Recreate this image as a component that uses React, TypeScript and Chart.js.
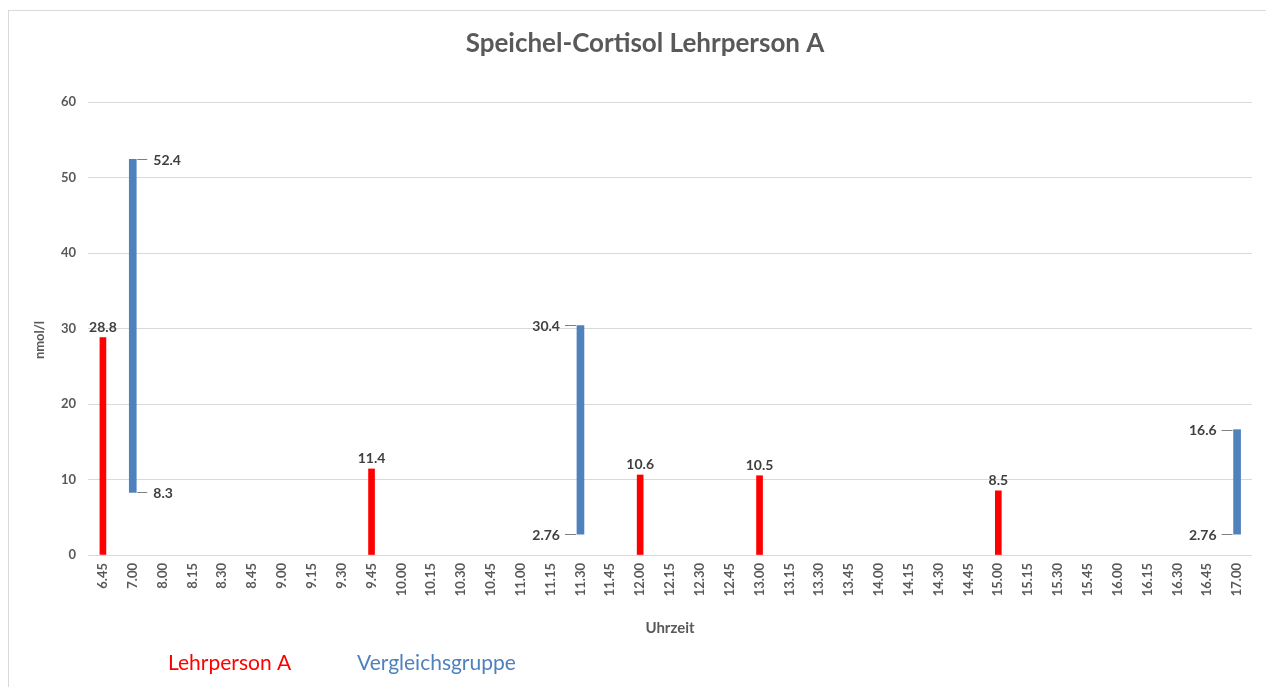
import React, { useEffect, useRef } from "react";
import { Chart, registerables } from "chart.js";

Chart.register(...registerables);

const times = [
  "6.45", "7.00", "8.00", "8.15", "8.30", "8.45", "9.00", "9.15", "9.30", "9.45",
  "10.00", "10.15", "10.30", "10.45", "11.00", "11.15", "11.30", "11.45", "12.00", "12.15",
  "12.30", "12.45", "13.00", "13.15", "13.30", "13.45", "14.00", "14.15", "14.30", "14.45",
  "15.00", "15.15", "15.30", "15.45", "16.00", "16.15", "16.30", "16.45", "17.00",
];

const lehrpersonTimes = ["6.45", "9.45", "12.00", "13.00", "15.00"];
const lehrpersonValues = [28.8, 11.4, 10.6, 10.5, 8.5];

const vergleichTimes = ["7.00", "11.30", "17.00"];
const vergleichLow = [8.3, 2.76, 2.76];
const vergleichHigh = [52.4, 30.4, 16.6];
const vergleichLabelSide = ["right", "left", "left"];

const yTicks = [0, 10, 20, 30, 40, 50, 60];

const TEXT = "#595959";
const LABEL = "#404040";
const RED = "#ff0000";
const BLUE = "#4f81bd";
const FONT = "Lato, 'Open Sans', sans-serif";

const labelPlugin = {
  id: "customText",
  afterDatasetsDraw(chart: any) {
    const ctx = chart.ctx;
    ctx.save();
    // red labels
    const m0 = chart.getDatasetMeta(0);
    ctx.font = `bold 14px ${FONT}`;
    ctx.fillStyle = LABEL;
    ctx.textAlign = "center";
    ctx.textBaseline = "bottom";
    m0.data.forEach((el: any, i: number) => {
      ctx.fillText(String(lehrpersonValues[i]), el.x, el.y - 3);
    });
    // blue labels
    const m1 = chart.getDatasetMeta(1);
    ctx.textBaseline = "middle";
    m1.data.forEach((el: any, i: number) => {
      const half = el.width / 2;
      const side = vergleichLabelSide[i];
      const pts = [
        { y: el.y, t: String(vergleichHigh[i]) },
        { y: el.base, t: String(vergleichLow[i]) },
      ];
      pts.forEach((p) => {
        ctx.strokeStyle = "#7f7f7f";
        ctx.lineWidth = 1;
        ctx.beginPath();
        if (side === "right") {
          ctx.moveTo(el.x + half + 1, Math.round(p.y) + 0.5);
          ctx.lineTo(el.x + half + 11, Math.round(p.y) + 0.5);
          ctx.stroke();
          ctx.textAlign = "left";
          ctx.fillText(p.t, el.x + half + 17, p.y + 1);
        } else {
          ctx.moveTo(el.x - half - 1, Math.round(p.y) + 0.5);
          ctx.lineTo(el.x - half - 12, Math.round(p.y) + 0.5);
          ctx.stroke();
          ctx.textAlign = "right";
          ctx.fillText(p.t, el.x - half - 17, p.y + 1);
        }
      });
    });
    ctx.restore();
  },
  afterDraw(chart: any) {
    const ctx = chart.ctx;
    const area = chart.chartArea;
    ctx.save();
    // title
    ctx.fillStyle = TEXT;
    ctx.font = `bold 26px ${FONT}`;
    ctx.textAlign = "center";
    ctx.textBaseline = "middle";
    ctx.fillText("Speichel-Cortisol Lehrperson A", 636, 33);
    // x axis title
    ctx.font = `bold 15px ${FONT}`;
    ctx.fillText("Uhrzeit", (area.left + area.right) / 2, 617);
    // y axis title
    ctx.save();
    ctx.translate(31, 329);
    ctx.rotate(-Math.PI / 2);
    ctx.font = `bold 13px ${FONT}`;
    ctx.fillText("nmol/l", 0, 0);
    ctx.restore();
    // legend
    ctx.font = `21px ${FONT}`;
    ctx.textAlign = "left";
    ctx.fillStyle = RED;
    ctx.fillText("Lehrperson A", 159, 652);
    ctx.fillStyle = BLUE;
    ctx.fillText("Vergleichsgruppe", 348, 652);
    ctx.restore();
  },
};

export default function App() {
  const ref = useRef<HTMLCanvasElement | null>(null);

  useEffect(() => {
    if (!ref.current) return;
    const chart = new Chart(ref.current, {
      type: "bar",
      data: {
        labels: times,
        datasets: [
          {
            label: "Lehrperson A",
            data: lehrpersonTimes.map((t, i) => ({ x: t, y: lehrpersonValues[i] })),
            backgroundColor: RED,
            borderWidth: 0,
            barThickness: 6,
            grouped: false,
          } as any,
          {
            label: "Vergleichsgruppe",
            data: vergleichTimes.map((t, i) => ({ x: t, y: [vergleichLow[i], vergleichHigh[i]] })),
            backgroundColor: BLUE,
            borderWidth: 0,
            barThickness: 7,
            grouped: false,
          } as any,
        ],
      },
      options: {
        animation: false,
        responsive: false,
        maintainAspectRatio: false,
        layout: { padding: { left: 0, right: 14, top: 91, bottom: 0 } },
        plugins: {
          legend: { display: false },
          title: { display: false },
          tooltip: { enabled: false },
        },
        scales: {
          x: {
            type: "category",
            offset: true,
            grid: { display: false, drawTicks: false },
            border: { display: false },
            ticks: {
              autoSkip: false,
              maxRotation: 90,
              minRotation: 90,
              padding: 8,
              color: TEXT,
              font: { family: FONT, size: 13, weight: "bold" },
            },
            afterFit: (s: any) => {
              s.height = 132;
            },
          },
          y: {
            min: 0,
            max: 60,
            afterBuildTicks: (s: any) => {
              s.ticks = yTicks.map((v) => ({ value: v }));
            },
            grid: { color: "#d9d9d9", lineWidth: 1, drawTicks: false },
            border: { display: false },
            ticks: {
              padding: 12,
              color: TEXT,
              font: { family: FONT, size: 13, weight: "bold" },
            },
            afterFit: (s: any) => {
              s.width = 79;
            },
          },
        },
      },
      plugins: [labelPlugin],
    });
    return () => chart.destroy();
  }, []);

  return (
    <div
      style={{
        marginTop: 2,
        borderLeft: "1px solid #d9d9d9",
        borderTop: "1px solid #d9d9d9",
        width: 1257,
        height: 676,
        background: "#fff",
      }}
    >
      <canvas ref={ref} width={1257} height={676} style={{ display: "block", width: 1257, height: 676 }} />
    </div>
  );
}
